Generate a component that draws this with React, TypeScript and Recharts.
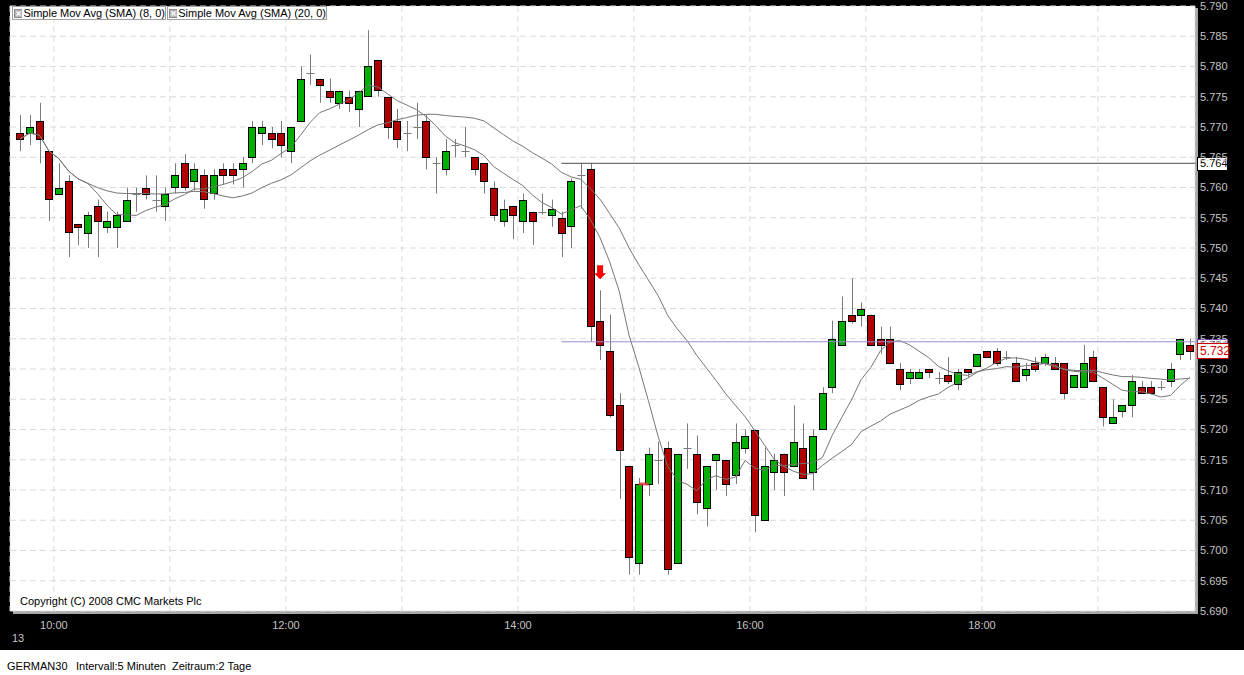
import {
  Bar,
  CartesianGrid,
  ComposedChart,
  Line,
  ReferenceDot,
  ReferenceLine,
  XAxis,
  YAxis,
} from 'recharts'

// 5-minute candles, start time of each bar
const times = [
  '09:40', '09:45', '09:50', '09:55',
  '10:00', '10:05', '10:10', '10:15', '10:20', '10:25', '10:30', '10:35', '10:40', '10:45', '10:50', '10:55',
  '11:00', '11:05', '11:10', '11:15', '11:20', '11:25', '11:30', '11:35', '11:40', '11:45', '11:50', '11:55',
  '12:00', '12:05', '12:10', '12:15', '12:20', '12:25', '12:30', '12:35', '12:40', '12:45', '12:50', '12:55',
  '13:00', '13:05', '13:10', '13:15', '13:20', '13:25', '13:30', '13:35', '13:40', '13:45', '13:50', '13:55',
  '14:00', '14:05', '14:10', '14:15', '14:20', '14:25', '14:30', '14:35', '14:40', '14:45', '14:50', '14:55',
  '15:00', '15:05', '15:10', '15:15', '15:20', '15:25', '15:30', '15:35', '15:40', '15:45', '15:50', '15:55',
  '16:00', '16:05', '16:10', '16:15', '16:20', '16:25', '16:30', '16:35', '16:40', '16:45', '16:50', '16:55',
  '17:00', '17:05', '17:10', '17:15', '17:20', '17:25', '17:30', '17:35', '17:40', '17:45', '17:50', '17:55',
  '18:00', '18:05', '18:10', '18:15', '18:20', '18:25', '18:30', '18:35', '18:40', '18:45', '18:50', '18:55',
  '19:00', '19:05', '19:10', '19:15', '19:20', '19:25', '19:30', '19:35', '19:40', '19:45',
]

const opens = [
  5.769, 5.769, 5.771, 5.766, 5.759, 5.761, 5.754, 5.7525, 5.757, 5.7535,
  5.7535, 5.7545, 5.759, 5.76, 5.758, 5.757, 5.76, 5.764, 5.761, 5.762,
  5.759, 5.763, 5.763, 5.763, 5.765, 5.769, 5.769, 5.769, 5.766, 5.771,
  5.779, 5.778, 5.776, 5.774, 5.775, 5.773, 5.775, 5.781, 5.775, 5.771,
  5.769, 5.77, 5.771, 5.764, 5.763, 5.767, 5.766, 5.765, 5.764, 5.76,
  5.7545, 5.757, 5.7545, 5.756, 5.756, 5.7555, 5.755, 5.7535, 5.762, 5.763,
  5.738, 5.733, 5.724, 5.714, 5.698, 5.711, 5.715, 5.717, 5.698, 5.717,
  5.716, 5.707, 5.715, 5.715, 5.7125, 5.717, 5.72, 5.705, 5.713, 5.716,
  5.714, 5.717, 5.713, 5.72, 5.727, 5.734, 5.739, 5.739, 5.739, 5.735,
  5.735, 5.73, 5.7285, 5.7285, 5.73, 5.7285, 5.729, 5.7275, 5.73, 5.7305,
  5.733, 5.733, 5.732, 5.731, 5.729, 5.731, 5.731, 5.731, 5.731, 5.727,
  5.727, 5.732, 5.727, 5.721, 5.723, 5.724, 5.727, 5.727, 5.727, 5.728,
  5.7325, 5.734,
]

const highs = [
  5.772, 5.772, 5.774, 5.766, 5.764, 5.762, 5.754, 5.756, 5.758, 5.756,
  5.756, 5.76, 5.76, 5.762, 5.762, 5.76, 5.764, 5.7655, 5.764, 5.763,
  5.763, 5.764, 5.764, 5.765, 5.771, 5.771, 5.77, 5.771, 5.77, 5.78,
  5.782, 5.778, 5.778, 5.776, 5.776, 5.776, 5.786, 5.781, 5.775, 5.773,
  5.771, 5.774, 5.772, 5.765, 5.768, 5.768, 5.77, 5.765, 5.764, 5.761,
  5.758, 5.757, 5.759, 5.756, 5.759, 5.758, 5.756, 5.7615, 5.764, 5.764,
  5.743, 5.739, 5.726, 5.714, 5.712, 5.717, 5.718, 5.718, 5.716, 5.721,
  5.719, 5.714, 5.716, 5.715, 5.721, 5.72, 5.72, 5.717, 5.716, 5.716,
  5.724, 5.721, 5.72, 5.727, 5.738, 5.742, 5.745, 5.741, 5.739, 5.737,
  5.737, 5.731, 5.73, 5.73, 5.73, 5.7295, 5.732, 5.73, 5.73, 5.7325,
  5.733, 5.7335, 5.733, 5.732, 5.731, 5.732, 5.7325, 5.732, 5.731, 5.729,
  5.734, 5.733, 5.727, 5.725, 5.724, 5.729, 5.728, 5.728, 5.728, 5.731,
  5.735, 5.735,
]

const lows = [
  5.766, 5.767, 5.764, 5.7545, 5.759, 5.7485, 5.7505, 5.75, 5.7485, 5.7525,
  5.75, 5.7545, 5.756, 5.758, 5.756, 5.7545, 5.759, 5.7595, 5.7595, 5.7565,
  5.758, 5.7605, 5.7605, 5.76, 5.764, 5.767, 5.7665, 5.765, 5.764, 5.771,
  5.777, 5.774, 5.774, 5.773, 5.7725, 5.77, 5.775, 5.775, 5.768, 5.7665,
  5.766, 5.768, 5.763, 5.759, 5.762, 5.765, 5.765, 5.762, 5.759, 5.7545,
  5.7535, 5.7515, 5.7525, 5.7505, 5.7555, 5.7535, 5.7485, 5.75, 5.7565, 5.7345,
  5.7315, 5.722, 5.7085, 5.696, 5.696, 5.709, 5.711, 5.696, 5.698, 5.7135,
  5.706, 5.704, 5.71, 5.709, 5.711, 5.716, 5.703, 5.705, 5.71, 5.709,
  5.714, 5.712, 5.71, 5.72, 5.726, 5.734, 5.7375, 5.737, 5.734, 5.7325,
  5.731, 5.7265, 5.7275, 5.7285, 5.7285, 5.7275, 5.7275, 5.7265, 5.7285, 5.7305,
  5.732, 5.7305, 5.7315, 5.728, 5.728, 5.7295, 5.7305, 5.73, 5.725, 5.727,
  5.727, 5.728, 5.7205, 5.721, 5.722, 5.722, 5.726, 5.726, 5.7265, 5.727,
  5.7315, 5.7315,
]

const closes = [
  5.768, 5.77, 5.768, 5.758, 5.76, 5.7525, 5.7535, 5.7555, 5.7545, 5.7545,
  5.7555, 5.758, 5.759, 5.759, 5.758, 5.759, 5.762, 5.76, 5.763, 5.758,
  5.762, 5.762, 5.762, 5.764, 5.77, 5.77, 5.768, 5.767, 5.77, 5.778,
  5.779, 5.777, 5.775, 5.776, 5.774, 5.776, 5.78, 5.776, 5.77, 5.768,
  5.769, 5.77, 5.765, 5.764, 5.766, 5.767, 5.766, 5.763, 5.761, 5.7555,
  5.7565, 5.7555, 5.758, 5.7545, 5.756, 5.7565, 5.7525, 5.761, 5.762, 5.737,
  5.734, 5.7225, 5.7165, 5.699, 5.711, 5.716, 5.715, 5.697, 5.716, 5.717,
  5.708, 5.714, 5.716, 5.711, 5.718, 5.719, 5.706, 5.714, 5.715, 5.713,
  5.718, 5.712, 5.719, 5.726, 5.735, 5.738, 5.738, 5.74, 5.734, 5.734,
  5.731, 5.7275, 5.7295, 5.7295, 5.7295, 5.7285, 5.728, 5.7295, 5.7295, 5.7325,
  5.732, 5.731, 5.732, 5.728, 5.73, 5.73, 5.732, 5.73, 5.726, 5.729,
  5.731, 5.728, 5.722, 5.722, 5.724, 5.728, 5.726, 5.726, 5.727, 5.73,
  5.735, 5.733,
]

const priceTicks = [
  5.69, 5.695, 5.7, 5.705, 5.71, 5.715, 5.72, 5.725, 5.73, 5.735, 5.74,
  5.745, 5.75, 5.755, 5.76, 5.765, 5.77, 5.775, 5.78, 5.785, 5.79,
]
const hourTicks = ['10:00', '11:00', '12:00', '13:00', '14:00', '15:00', '16:00', '17:00', '18:00', '19:00']
const labelledHours = ['10:00', '12:00', '14:00', '16:00', '18:00']

// horizontal markers
const highLine = { from: '14:20', price: 5.764, text: '5.764' }
const purpleLine = { from: '14:20', price: 5.7345, text: '5.734' }
const lastPrice = { price: 5.733, text: '5.732' }
const signalArrow = { time: '14:40', price: 5.746 }
const flatMark = { from: '15:00', to: '15:05', price: 5.711 }

const FONT = '"Liberation Sans", Arial, sans-serif'
const RED = '#b00000'
const GREEN = '#00b000'
const WICK = '#7a7a7a'

const toMin = (t: string) => {
  const [h, m] = t.split(':').map(Number)
  return h * 60 + m
}
const fmtMin = (v: number) =>
  `${String(Math.floor(v / 60)).padStart(2, '0')}:${String(Math.round(v % 60)).padStart(2, '0')}`
const mid = (t: string) => toMin(t) + 2.5

const sma = (vals: number[], n: number) =>
  vals.map((_, i) => {
    const w = vals.slice(Math.max(0, i - n + 1), i + 1)
    return w.reduce((a, b) => a + b, 0) / w.length
  })

const sma8 = sma(closes, 8)
const sma20 = sma(closes, 20)

const data = times.map((t, i) => ({
  t: mid(t),
  open: opens[i],
  high: highs[i],
  low: lows[i],
  close: closes[i],
  range: [lows[i], highs[i]],
  sma8: sma8[i],
  sma20: sma20[i],
}))

const Candle = (props: any) => {
  const { x, y, width, height, payload } = props
  const { open, close, high, low } = payload
  const cx = Math.round(x + width / 2) + 0.5
  const k = high > low ? height / (high - low) : 0
  const py = (v: number) => y + (high - v) * k
  const top = py(Math.max(open, close))
  const bottom = py(Math.min(open, close))
  return (
    <g>
      <line x1={cx} x2={cx} y1={y} y2={y + height} stroke={WICK} strokeWidth={1} />
      {Math.abs(close - open) < 0.0002 ? (
        <line x1={cx - 4} x2={cx + 4} y1={Math.round(top) + 0.5} y2={Math.round(top) + 0.5} stroke={WICK} />
      ) : (
        <rect
          x={cx - 4}
          y={Math.round(top) + 0.5}
          width={7}
          height={Math.max(3, Math.round(bottom - top))}
          fill={close > open ? GREEN : RED}
          stroke="#000"
          strokeWidth={1}
        />
      )}
    </g>
  )
}

const PriceTag = (props: any) => {
  const { viewBox, text, color, textColor, h = 13, dy = 0, size = 11, w = 30 } = props
  const x = viewBox.x + viewBox.width + 2
  const cy = viewBox.y + dy
  return (
    <g>
      <rect x={x + 0.5} y={Math.round(cy - h / 2) + 0.5} width={w} height={h} fill="#fff" stroke={color} />
      <text x={x + 3} y={cy} dy="0.36em" fill={textColor} fontSize={size} fontFamily={FONT}>
        {text}
      </text>
    </g>
  )
}

const Arrow = (props: any) => {
  const { cx, cy } = props
  return (
    <path
      d={`M${cx - 3} ${cy - 7} h6 v8 h3 l-6 6 l-6 -6 h3 z`}
      fill="#ff0000"
    />
  )
}

const LegendItem = ({ left, width, text }: { left: number; width: number; text: string }) => (
  <div
    style={{
      position: 'absolute',
      left,
      top: 6,
      width,
      height: 12,
      background: '#fff',
      border: '1px solid #a0a0a0',
      display: 'flex',
      alignItems: 'center',
      fontSize: 11,
      lineHeight: '12px',
      color: '#000',
      whiteSpace: 'nowrap',
    }}
  >
    <svg width={9} height={9} style={{ marginLeft: 1, marginRight: 1 }}>
      <rect x={0.5} y={0.5} width={8} height={8} fill="#b8b8b8" stroke="#8a8a8a" />
      <path d="M2.5 2.5 L6.5 6.5 M6.5 2.5 L2.5 6.5" stroke="#fff" strokeWidth={1.2} />
    </svg>
    {text}
  </div>
)

export default function App() {
  const xMin = 577.3
  const xMax = 1190.2
  return (
    <div
      style={{
        position: 'relative',
        width: 1244,
        height: 675,
        background: '#000',
        fontFamily: FONT,
        overflow: 'hidden',
      }}
    >
      <style>{'body{margin:0}'}</style>
      <div style={{ position: 'absolute', left: 13, top: 8, width: 1185, height: 606, background: '#a8a8a8' }} />
      <div style={{ position: 'absolute', left: 0, top: 0 }}>
        <ComposedChart width={1244} height={650} data={data} margin={{ top: 6, right: 0, bottom: 0, left: 10 }}>
          <CartesianGrid stroke="#dadada" strokeDasharray="6 4" fill="#fff" />
          <XAxis
            dataKey="t"
            type="number"
            domain={[xMin, xMax]}
            allowDataOverflow
            ticks={hourTicks.map(toMin)}
            tickFormatter={(v: number) => (labelledHours.includes(fmtMin(v)) ? fmtMin(v) : '')}
            axisLine={false}
            tickLine={false}
            tickSize={0}
            tickMargin={10}
            height={39}
            tick={{ fill: '#c4c4c4', fontSize: 11, fontFamily: FONT }}
          />
          <YAxis
            orientation="right"
            domain={[5.69, 5.79]}
            allowDataOverflow
            ticks={priceTicks}
            tickFormatter={(v: number) => v.toFixed(3)}
            axisLine={false}
            tickLine={false}
            tickSize={0}
            tickMargin={5}
            width={49}
            tick={{ fill: '#c4c4c4', fontSize: 11, fontFamily: FONT }}
          />
          <Bar dataKey="range" barSize={8} shape={Candle} isAnimationActive={false} />
          <Line dataKey="sma8" stroke="#767676" strokeWidth={1} dot={false} isAnimationActive={false} />
          <Line dataKey="sma20" stroke="#767676" strokeWidth={1} dot={false} isAnimationActive={false} />
          <ReferenceLine
            segment={[
              { x: mid(highLine.from), y: highLine.price },
              { x: xMax, y: highLine.price },
            ]}
            stroke="#4a4a4a"
            label={<PriceTag text={highLine.text} color="#000" textColor="#000" />}
          />
          <ReferenceLine
            segment={[
              { x: mid(purpleLine.from), y: purpleLine.price },
              { x: xMax, y: purpleLine.price },
            ]}
            stroke="#9c8ad0"
            label={<PriceTag text={purpleLine.text} color="#6040b0" textColor="#555" dy={3.5} h={13} />}
          />
          <ReferenceLine
            y={lastPrice.price}
            strokeOpacity={0}
            label={<PriceTag text={lastPrice.text} color="#d00000" textColor="#d00000" h={15} size={12} w={31} />}
          />
          <ReferenceLine
            segment={[
              { x: mid(flatMark.from), y: flatMark.price },
              { x: mid(flatMark.to), y: flatMark.price },
            ]}
            stroke="#e04040"
            strokeWidth={3}
            strokeOpacity={0.85}
          />
          <ReferenceDot x={mid(signalArrow.time)} y={signalArrow.price} shape={Arrow} />
        </ComposedChart>
      </div>
      <LegendItem left={12} width={152} text="Simple Mov Avg (SMA) (8, 0)" />
      <LegendItem left={167} width={158} text="Simple Mov Avg (SMA) (20, 0)" />
      <div style={{ position: 'absolute', left: 20, top: 595, fontSize: 11, color: '#000' }}>
        Copyright (C) 2008 CMC Markets Plc
      </div>
      <div style={{ position: 'absolute', left: 12, top: 632, fontSize: 11, color: '#c4c4c4' }}>13</div>
      <div
        style={{
          position: 'absolute',
          left: 0,
          top: 650,
          width: 1244,
          height: 25,
          background: '#fff',
          fontSize: 11,
          color: '#000',
        }}
      >
        <span style={{ position: 'absolute', left: 7, top: 10 }}>GERMAN30</span>
        <span style={{ position: 'absolute', left: 76, top: 10 }}>Intervall:5 Minuten</span>
        <span style={{ position: 'absolute', left: 172, top: 10 }}>Zeitraum:2 Tage</span>
      </div>
    </div>
  )
}
